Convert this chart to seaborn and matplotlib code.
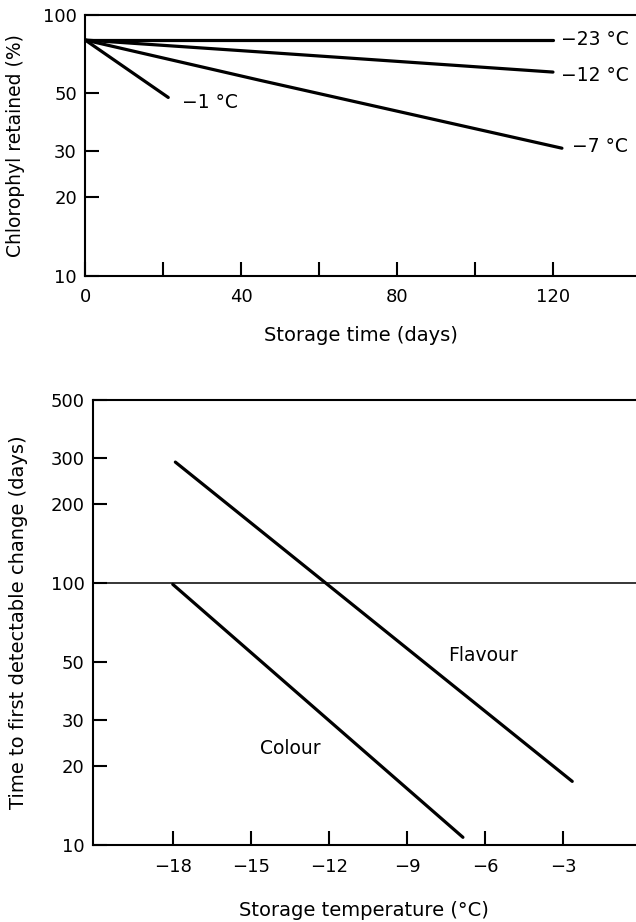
import pandas as pd
import numpy as np
import seaborn as sns
import matplotlib.pyplot as plt
from matplotlib.ticker import FixedLocator, NullLocator

# --- top panel: chlorophyl retention vs storage time ---
days_23 = [0, 120]
chl_23 = [80, 80]
days_12 = [0, 45, 120]
chl_12 = [80, 72, 60.3]
days_7 = [0, 45, 122.3]
chl_7 = [80, 56, 30.8]
days_1 = [0, 21.3]
chl_1 = [80, 48.2]
temp_labels = ["\u221223 \u00b0C", "\u221212 \u00b0C", "\u22127 \u00b0C", "\u22121 \u00b0C"]

# --- bottom panel: time to first detectable change vs temperature ---
temp_flav = [-17.9, -2.65]
days_flav = [290, 17.5]
temp_col = [-18, -6.85]
days_col = [99, 10.7]

sns.set_style("ticks")
plt.rcParams['font.family'] = ['DejaVu Sans']
plt.rcParams['axes.linewidth'] = 1.5
# plain black everywhere, like the printed figure
for key in ['text.color', 'axes.labelcolor', 'axes.edgecolor', 'xtick.color', 'ytick.color']:
    plt.rcParams[key] = 'black'

fig = plt.figure(figsize=(6.36, 9.22), dpi=100)
ax1 = fig.add_axes([0.134, 0.701, 0.866, 0.283])
ax2 = fig.add_axes([0.146, 0.0835, 0.854, 0.4825])

lw = 2.3
top = pd.concat([
    pd.DataFrame({'days': days_23, 'chl': chl_23, 'temp': temp_labels[0]}),
    pd.DataFrame({'days': days_12, 'chl': chl_12, 'temp': temp_labels[1]}),
    pd.DataFrame({'days': days_7, 'chl': chl_7, 'temp': temp_labels[2]}),
    pd.DataFrame({'days': days_1, 'chl': chl_1, 'temp': temp_labels[3]}),
])
sns.lineplot(data=top, x='days', y='chl', units='temp', estimator=None,
             color='black', lw=lw, ax=ax1, legend=False)
ax1.set_yscale('log')
ax1.set_xlim(0, 141.3)
ax1.set_ylim(10, 100)
ax1.yaxis.set_major_locator(FixedLocator([10, 20, 30, 50, 100]))
ax1.yaxis.set_minor_locator(NullLocator())
ax1.set_yticklabels(['10', '20', '30', '50', '100'])
ax1.set_xticks([0, 40, 80, 120])
ax1.set_xticks([20, 60, 100], minor=True)
ax1.set_xlabel('Storage time (days)', fontsize=14, labelpad=14)
ax1.set_ylabel('Chlorophyl retained (%)', fontsize=13.5, labelpad=13)
ax1.spines['right'].set_visible(False)

lab_x = [122, 122, 124.9, 24.7]
lab_y = [80.2, 58.4, 31.3, 45.9]
for t, x, y in zip(temp_labels, lab_x, lab_y):
    ax1.text(x, y, t, fontsize=13.5, va='center', ha='left')

bot = pd.concat([
    pd.DataFrame({'temp': temp_flav, 'days': days_flav, 'q': 'Flavour'}),
    pd.DataFrame({'temp': temp_col, 'days': days_col, 'q': 'Colour'}),
])
sns.lineplot(data=bot, x='temp', y='days', units='q', estimator=None,
             color='black', lw=lw, ax=ax2, legend=False)
ax2.axhline(100, color='black', lw=1.1)
ax2.set_yscale('log')
ax2.set_xlim(-21.07, -0.2)
ax2.set_ylim(10, 500)
ax2.yaxis.set_major_locator(FixedLocator([10, 20, 30, 50, 100, 200, 300, 500]))
ax2.yaxis.set_minor_locator(NullLocator())
ax2.set_yticklabels(['10', '20', '30', '50', '100', '200', '300', '500'])
ax2.set_xticks([-18, -15, -12, -9, -6, -3])
ax2.set_xticklabels(['\u221218', '\u221215', '\u221212', '\u22129', '\u22126', '\u22123'])
ax2.set_xlabel('Storage temperature (\u00b0C)', fontsize=14, labelpad=18)
ax2.set_ylabel('Time to first detectable change (days)', fontsize=14, labelpad=16)
ax2.spines['right'].set_visible(False)
ax2.text(-6.06, 53, 'Flavour', fontsize=13.5, ha='center', va='center')
ax2.text(-13.5, 23.4, 'Colour', fontsize=13.5, ha='center', va='center')

for ax in (ax1, ax2):
    ax.tick_params(which='both', direction='in', length=10, width=1.5,
                   labelsize=13, pad=6, color='black')
    ax.tick_params(axis='x', pad=9)

plt.savefig('out.png', dpi=100)
